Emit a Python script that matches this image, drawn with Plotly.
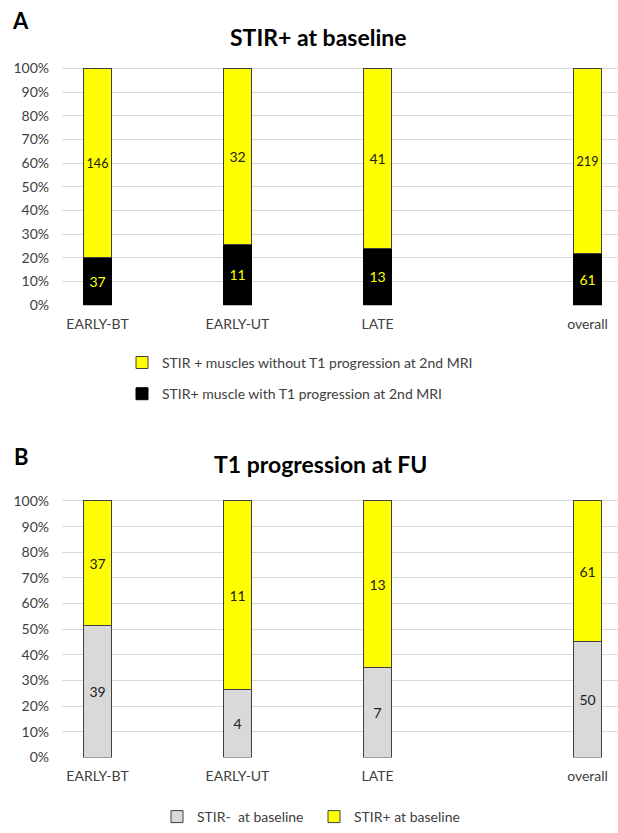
import plotly.graph_objects as go

# ---- data ----
categories = ["EARLY-BT", "EARLY-UT", "LATE", "overall"]
a_with_prog = [37, 11, 13, 61]          # STIR+ muscle with T1 progression at 2nd MRI
a_without_prog = [146, 32, 41, 219]     # STIR + muscles without T1 progression at 2nd MRI
b_stir_neg = [39, 4, 7, 50]             # STIR-  at baseline
b_stir_pos = [37, 11, 13, 61]           # STIR+ at baseline
y_ticks = list(range(0, 101, 10))
y_tick_labels = [f"{v}%" for v in y_ticks]

# ---- layout constants ----
slots = [0, 2, 4, 7]           # horizontal slot of each category (blank slots between)
W, H = 618, 833
FONT = "Lato"
TXT = "#404040"
GRID = "#d9d9d9"
EDGE = "#404040"
YEL = "#ffff00"
GRAY = "#d9d9d9"
YMAX = 100.6                   # a little headroom so the bar top outlines are not clipped

def py(px):
    return 1 - px / H

def ydom(top100_px, zero_px):
    span = zero_px - top100_px
    top_px = top100_px - span * (YMAX - 100) / 100
    return [py(zero_px), py(top_px)]

fig = go.Figure()

bar_common = dict(textposition="inside", insidetextanchor="middle", textangle=0,
                  width=0.4, hoverinfo="skip")

# Chart A
fig.add_trace(go.Bar(x=slots, y=a_with_prog, name="STIR+ muscle with T1 progression at 2nd MRI",
                     marker=dict(color="#000000", line=dict(color="#000000", width=1)),
                     text=a_with_prog, textfont=dict(color=YEL, size=14, family=FONT),
                     xaxis="x", yaxis="y", legend="legend", legendgroup="a1",
                     legendrank=2, **bar_common))
fig.add_trace(go.Bar(x=slots, y=a_without_prog, name="STIR + muscles without T1 progression at 2nd MRI",
                     marker=dict(color=YEL, line=dict(color=EDGE, width=1)),
                     text=a_without_prog, textfont=dict(color="#202020", size=14, family=FONT),
                     xaxis="x", yaxis="y", legend="legend", legendgroup="a2",
                     legendrank=1, **bar_common))

# Chart B
fig.add_trace(go.Bar(x=slots, y=b_stir_neg, name="STIR-  at baseline",
                     marker=dict(color=GRAY, line=dict(color=EDGE, width=1)),
                     text=b_stir_neg, textfont=dict(color="#202020", size=14, family=FONT),
                     xaxis="x2", yaxis="y2", legend="legend2", **bar_common))
fig.add_trace(go.Bar(x=slots, y=b_stir_pos, name="STIR+ at baseline",
                     marker=dict(color=YEL, line=dict(color=EDGE, width=1)),
                     text=b_stir_pos, textfont=dict(color="#202020", size=14, family=FONT),
                     xaxis="x2", yaxis="y2", legend="legend2", **bar_common))

xdom = [62 / W, 1]
xr = [-(97.5 - 62) / 70, -(97.5 - 62) / 70 + (W - 62) / 70]

common_x = dict(range=xr, tickmode="array", tickvals=slots, ticktext=categories,
                showgrid=False, zeroline=False, showline=False, ticks="",
                ticklabelstandoff=9,
                tickfont=dict(size=14, color=TXT, family=FONT), automargin=False,
                fixedrange=True)
common_y = dict(range=[0, YMAX], tickmode="array", tickvals=y_ticks, ticktext=y_tick_labels,
                showgrid=True, gridcolor=GRID, gridwidth=1, zeroline=False, showline=False,
                ticks="", ticklabelstandoff=12,
                tickfont=dict(size=14, color=TXT, family=FONT), automargin=False,
                fixedrange=True)

fig.update_layout(
    width=W, height=H,
    margin=dict(l=0, r=0, t=0, b=0),
    paper_bgcolor="white", plot_bgcolor="white",
    barmode="stack", barnorm="percent",
    font=dict(family=FONT, color=TXT),
    xaxis=dict(domain=xdom, anchor="y", **common_x),
    yaxis=dict(domain=ydom(69, 307), anchor="x", **common_y),
    xaxis2=dict(domain=xdom, anchor="y2", **common_x),
    yaxis2=dict(domain=ydom(504, 762), anchor="x2", **common_y),
    legend=dict(x=122 / W, y=py(349), xanchor="left", yanchor="top",
                orientation="v", traceorder="grouped", tracegroupgap=10,
                font=dict(size=14, color=TXT, family=FONT), bgcolor="rgba(0,0,0,0)"),
    legend2=dict(x=157 / W, y=py(806), xanchor="left", yanchor="top",
                 orientation="h", traceorder="normal", entrywidth=112,
                 font=dict(size=14, color=TXT, family=FONT), bgcolor="rgba(0,0,0,0)"),
    showlegend=True,
    annotations=[
        dict(text="<b>A</b>", x=10 / W, y=py(21), xref="paper", yref="paper",
             xanchor="left", yanchor="middle", showarrow=False,
             font=dict(size=22, color="#000000", family=FONT)),
        dict(text="<b>STIR+ at baseline</b>", x=318 / W, y=py(37), xref="paper", yref="paper",
             xanchor="center", yanchor="middle", showarrow=False,
             font=dict(size=23, color="#000000", family=FONT)),
        dict(text="<b>B</b>", x=12 / W, y=py(459), xref="paper", yref="paper",
             xanchor="left", yanchor="middle", showarrow=False,
             font=dict(size=22, color="#000000", family=FONT)),
        dict(text="<b>T1 progression at FU</b>", x=320 / W, y=py(467), xref="paper", yref="paper",
             xanchor="center", yanchor="middle", showarrow=False,
             font=dict(size=23, color="#000000", family=FONT)),
    ],
)

fig.write_html("out.html", config={"displayModeBar": False, "staticPlot": True},
               post_script="document.body.style.margin='0';document.body.style.overflow='hidden';")
